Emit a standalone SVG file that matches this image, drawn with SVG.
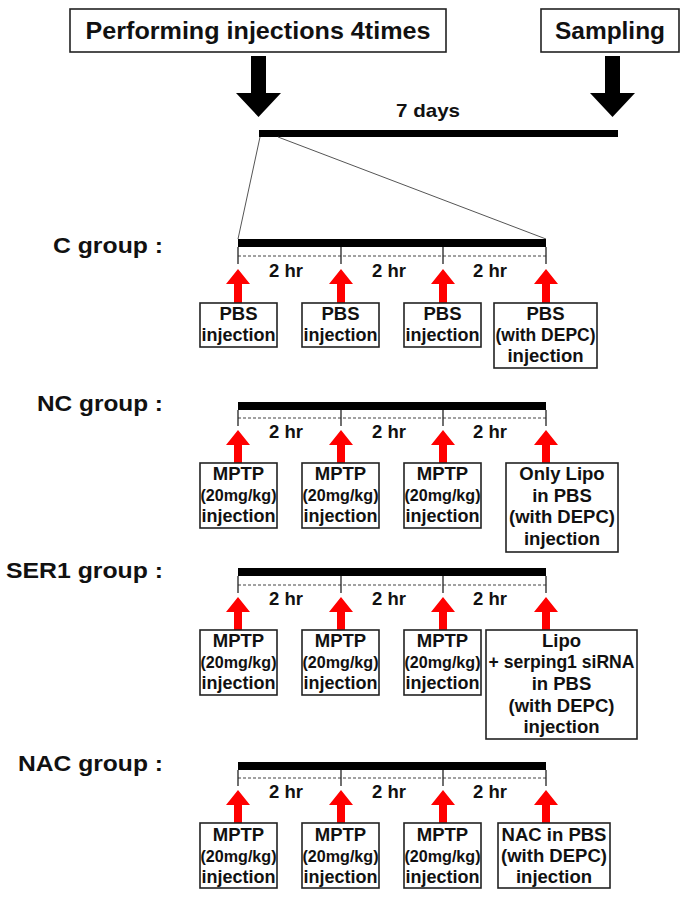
<svg xmlns="http://www.w3.org/2000/svg" xmlns:xlink="http://www.w3.org/1999/xlink" width="691" height="897" viewBox="0 0 691 897">
<style>
  text { font-family: "Liberation Sans", Arial, sans-serif; font-weight: bold; fill: #111; }
  .title { font-size: 24px; text-anchor: middle; }
  .lbl { font-size: 22px; text-anchor: end; }
  .hr { font-size: 18.5px; text-anchor: middle; }
  .bt { font-size: 18.5px; text-anchor: middle; }
  .sm { font-size: 16px; text-anchor: middle; }
  .box { fill: #fff; stroke: #222; stroke-width: 1.6; }
  .bar { fill: #000; }
  .tick { stroke: #222; stroke-width: 1.3; }
  .dash { stroke: #444; stroke-width: 1; stroke-dasharray: 3 2; fill: none; }
  .thin { stroke: #555; stroke-width: 1; fill: none; }
  .red { fill: #ff0000; }
</style>
<defs>
  <polygon id="redArrow" class="red" points="0,0 12,15 4,15 4,34 -4,34 -4,15 -12,15"/>
</defs>

<!-- top -->
<g id="performing">
  <rect class="box" x="70" y="9" width="376" height="43"/>
  <text class="title" x="258" y="39" textLength="345" lengthAdjust="spacingAndGlyphs">Performing injections 4times</text>
</g>
<g id="sampling">
  <rect class="box" x="541" y="9" width="138" height="43"/>
  <text class="title" x="610" y="39" textLength="110" lengthAdjust="spacingAndGlyphs">Sampling</text>
</g>
<g id="timeline">
  <polygon fill="#000" points="251,56 266,56 266,93 281,93 258.5,117 236,93 251,93"/>
  <polygon fill="#000" points="605,56 620,56 620,93 635,93 612.5,117 590,93 605,93"/>
  <text x="428" y="117" style="font-size:19px;text-anchor:middle" textLength="64" lengthAdjust="spacingAndGlyphs">7 days</text>
  <rect class="bar" x="259" y="130" width="359" height="7"/>
</g>
<g id="connectors">
  <line class="thin" x1="260" y1="137" x2="238" y2="239"/>
  <line class="thin" x1="278" y1="137" x2="546" y2="239"/>
</g>

<!-- C group -->
<g id="c-group">
  <text class="lbl" x="163" y="253" textLength="110" lengthAdjust="spacingAndGlyphs">C group :</text>
  <rect class="bar" x="238" y="239" width="308" height="8"/>
  <line class="dash" x1="238" y1="256" x2="546" y2="256"/>
  <line class="tick" x1="238" y1="247" x2="238" y2="264"/>
  <line class="tick" x1="341" y1="247" x2="341" y2="264"/>
  <line class="tick" x1="443" y1="247" x2="443" y2="264"/>
  <line class="tick" x1="546" y1="247" x2="546" y2="264"/>
  <text class="hr" x="286" y="277">2 hr</text>
  <text class="hr" x="389" y="277">2 hr</text>
  <text class="hr" x="490" y="277">2 hr</text>
  <use xlink:href="#redArrow" x="238" y="269"/>
  <use xlink:href="#redArrow" x="341" y="269"/>
  <use xlink:href="#redArrow" x="443" y="269"/>
  <use xlink:href="#redArrow" x="546" y="269"/>
  <g id="c-box1"><rect class="box" x="200" y="303" width="77" height="44"/>
    <text class="bt" x="238.5" y="320">PBS</text><text class="bt" x="238.5" y="341" textLength="74" lengthAdjust="spacingAndGlyphs">injection</text></g>
  <g id="c-box2"><rect class="box" x="302" y="303" width="77" height="44"/>
    <text class="bt" x="340.5" y="320">PBS</text><text class="bt" x="340.5" y="341" textLength="74" lengthAdjust="spacingAndGlyphs">injection</text></g>
  <g id="c-box3"><rect class="box" x="404" y="303" width="77" height="44"/>
    <text class="bt" x="442.5" y="320">PBS</text><text class="bt" x="442.5" y="341" textLength="74" lengthAdjust="spacingAndGlyphs">injection</text></g>
  <g id="c-box4"><rect class="box" x="494" y="303" width="103" height="65"/>
    <text class="bt" x="545.5" y="320">PBS</text><text class="bt" x="545.5" y="341" textLength="100" lengthAdjust="spacingAndGlyphs">(with DEPC)</text><text class="bt" x="545.5" y="362">injection</text></g>
</g>

<!-- NC group -->
<g id="nc-group">
  <text class="lbl" x="163" y="411" textLength="126" lengthAdjust="spacingAndGlyphs">NC group :</text>
  <rect class="bar" x="238" y="402" width="308" height="8"/>
  <line class="dash" x1="238" y1="418" x2="546" y2="418"/>
  <line class="tick" x1="238" y1="410" x2="238" y2="426"/>
  <line class="tick" x1="341" y1="410" x2="341" y2="426"/>
  <line class="tick" x1="443" y1="410" x2="443" y2="426"/>
  <line class="tick" x1="546" y1="410" x2="546" y2="426"/>
  <text class="hr" x="286" y="438">2 hr</text>
  <text class="hr" x="389" y="438">2 hr</text>
  <text class="hr" x="490" y="438">2 hr</text>
  <use xlink:href="#redArrow" x="238" y="430"/>
  <use xlink:href="#redArrow" x="341" y="430"/>
  <use xlink:href="#redArrow" x="443" y="430"/>
  <use xlink:href="#redArrow" x="546" y="430"/>
  <g id="nc-box1"><rect class="box" x="200" y="463" width="77" height="65"/>
    <text class="bt" x="238.5" y="480">MPTP</text><text class="sm" x="238.5" y="501" textLength="76" lengthAdjust="spacingAndGlyphs">(20mg/kg)</text><text class="bt" x="238.5" y="522" textLength="74" lengthAdjust="spacingAndGlyphs">injection</text></g>
  <g id="nc-box2"><rect class="box" x="302" y="463" width="77" height="65"/>
    <text class="bt" x="340.5" y="480">MPTP</text><text class="sm" x="340.5" y="501" textLength="76" lengthAdjust="spacingAndGlyphs">(20mg/kg)</text><text class="bt" x="340.5" y="522" textLength="74" lengthAdjust="spacingAndGlyphs">injection</text></g>
  <g id="nc-box3"><rect class="box" x="404" y="463" width="77" height="65"/>
    <text class="bt" x="442.5" y="480">MPTP</text><text class="sm" x="442.5" y="501" textLength="76" lengthAdjust="spacingAndGlyphs">(20mg/kg)</text><text class="bt" x="442.5" y="522" textLength="74" lengthAdjust="spacingAndGlyphs">injection</text></g>
  <g id="nc-box4"><rect class="box" x="506" y="463" width="112" height="89"/>
    <text class="bt" x="562" y="480">Only Lipo</text><text class="bt" x="562" y="502">in PBS</text><text class="bt" x="562" y="523">(with DEPC)</text><text class="bt" x="562" y="545">injection</text></g>
</g>

<!-- SER1 group -->
<g id="ser1-group">
  <text class="lbl" x="163" y="578" textLength="157" lengthAdjust="spacingAndGlyphs">SER1 group :</text>
  <rect class="bar" x="238" y="568" width="308" height="8"/>
  <line class="dash" x1="238" y1="585" x2="546" y2="585"/>
  <line class="tick" x1="238" y1="576" x2="238" y2="593"/>
  <line class="tick" x1="341" y1="576" x2="341" y2="593"/>
  <line class="tick" x1="443" y1="576" x2="443" y2="593"/>
  <line class="tick" x1="546" y1="576" x2="546" y2="593"/>
  <text class="hr" x="286" y="605">2 hr</text>
  <text class="hr" x="389" y="605">2 hr</text>
  <text class="hr" x="490" y="605">2 hr</text>
  <use xlink:href="#redArrow" x="238" y="597"/>
  <use xlink:href="#redArrow" x="341" y="597"/>
  <use xlink:href="#redArrow" x="443" y="597"/>
  <use xlink:href="#redArrow" x="546" y="597"/>
  <g id="ser1-box1"><rect class="box" x="200" y="630" width="77" height="65"/>
    <text class="bt" x="238.5" y="647">MPTP</text><text class="sm" x="238.5" y="668" textLength="76" lengthAdjust="spacingAndGlyphs">(20mg/kg)</text><text class="bt" x="238.5" y="689" textLength="74" lengthAdjust="spacingAndGlyphs">injection</text></g>
  <g id="ser1-box2"><rect class="box" x="302" y="630" width="77" height="65"/>
    <text class="bt" x="340.5" y="647">MPTP</text><text class="sm" x="340.5" y="668" textLength="76" lengthAdjust="spacingAndGlyphs">(20mg/kg)</text><text class="bt" x="340.5" y="689" textLength="74" lengthAdjust="spacingAndGlyphs">injection</text></g>
  <g id="ser1-box3"><rect class="box" x="404" y="630" width="77" height="65"/>
    <text class="bt" x="442.5" y="647">MPTP</text><text class="sm" x="442.5" y="668" textLength="76" lengthAdjust="spacingAndGlyphs">(20mg/kg)</text><text class="bt" x="442.5" y="689" textLength="74" lengthAdjust="spacingAndGlyphs">injection</text></g>
  <g id="ser1-box4"><rect class="box" x="486" y="630" width="151" height="109"/>
    <text class="bt" x="561.5" y="647">Lipo</text><text class="bt" x="561.5" y="668" textLength="146" lengthAdjust="spacingAndGlyphs">+ serping1 siRNA</text><text class="bt" x="561.5" y="690">in PBS</text><text class="bt" x="561.5" y="712">(with DEPC)</text><text class="bt" x="561.5" y="733">injection</text></g>
</g>

<!-- NAC group -->
<g id="nac-group">
  <text class="lbl" x="163" y="771" textLength="145" lengthAdjust="spacingAndGlyphs">NAC group :</text>
  <rect class="bar" x="238" y="762" width="308" height="8"/>
  <line class="dash" x1="238" y1="778" x2="546" y2="778"/>
  <line class="tick" x1="238" y1="770" x2="238" y2="786"/>
  <line class="tick" x1="341" y1="770" x2="341" y2="786"/>
  <line class="tick" x1="443" y1="770" x2="443" y2="786"/>
  <line class="tick" x1="546" y1="770" x2="546" y2="786"/>
  <text class="hr" x="286" y="798">2 hr</text>
  <text class="hr" x="389" y="798">2 hr</text>
  <text class="hr" x="490" y="798">2 hr</text>
  <use xlink:href="#redArrow" x="238" y="790"/>
  <use xlink:href="#redArrow" x="341" y="790"/>
  <use xlink:href="#redArrow" x="443" y="790"/>
  <use xlink:href="#redArrow" x="546" y="790"/>
  <g id="nac-box1"><rect class="box" x="200" y="823" width="77" height="65"/>
    <text class="bt" x="238.5" y="841">MPTP</text><text class="sm" x="238.5" y="862" textLength="76" lengthAdjust="spacingAndGlyphs">(20mg/kg)</text><text class="bt" x="238.5" y="883" textLength="74" lengthAdjust="spacingAndGlyphs">injection</text></g>
  <g id="nac-box2"><rect class="box" x="302" y="823" width="77" height="65"/>
    <text class="bt" x="340.5" y="841">MPTP</text><text class="sm" x="340.5" y="862" textLength="76" lengthAdjust="spacingAndGlyphs">(20mg/kg)</text><text class="bt" x="340.5" y="883" textLength="74" lengthAdjust="spacingAndGlyphs">injection</text></g>
  <g id="nac-box3"><rect class="box" x="404" y="823" width="77" height="65"/>
    <text class="bt" x="442.5" y="841">MPTP</text><text class="sm" x="442.5" y="862" textLength="76" lengthAdjust="spacingAndGlyphs">(20mg/kg)</text><text class="bt" x="442.5" y="883" textLength="74" lengthAdjust="spacingAndGlyphs">injection</text></g>
  <g id="nac-box4"><rect class="box" x="498" y="823" width="112" height="65"/>
    <text class="bt" x="554" y="841">NAC in PBS</text><text class="bt" x="554" y="862">(with DEPC)</text><text class="bt" x="554" y="883">injection</text></g>
</g>
</svg>
